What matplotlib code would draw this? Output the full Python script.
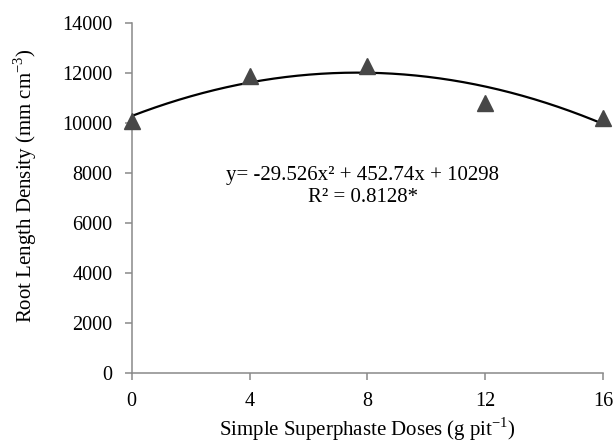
import matplotlib
matplotlib.use("Agg")
import matplotlib.pyplot as plt
import numpy as np

plt.rcParams['font.family'] = ['Liberation Serif', 'DejaVu Serif']
plt.rcParams['mathtext.fontset'] = 'custom'
plt.rcParams['mathtext.rm'] = 'Liberation Serif'

doses = [0, 4, 8, 12, 16]
root_density = [10100, 11900, 12300, 10800, 10200]
coef = [-29.526, 452.74, 10298]
x_ticks = [0, 4, 8, 12, 16]
y_ticks = [0, 2000, 4000, 6000, 8000, 10000, 12000, 14000]

fig = plt.figure(figsize=(6.14, 4.43), dpi=100)
ax = fig.add_axes([0.2145, 0.157, 0.7675, 0.790])

xs = np.linspace(0, 16, 200)
ax.plot(xs, np.polyval(coef, xs), color='black', lw=1.6, zorder=2)
ax.plot(doses, root_density, linestyle='none', marker='^', markersize=11.5,
        color='#474747', zorder=3, clip_on=False)

ax.set_xlim(0, 16)
ax.set_ylim(0, 14000)
ax.set_xticks(x_ticks)
ax.set_yticks(y_ticks)
ax.tick_params(axis='both', labelsize=14.5, color='#898989', length=5, width=1.1)
ax.tick_params(axis='y', pad=9)
ax.tick_params(axis='x', pad=8)
for side in ['top', 'right']:
    ax.spines[side].set_visible(False)
for side in ['left', 'bottom']:
    ax.spines[side].set_color('#898989')
    ax.spines[side].set_linewidth(1.1)

ax.set_xlabel(r'Simple Superphaste Doses (g pit$^{\mathregular{-1}}$)', fontsize=15, va='center')
ax.set_ylabel(r'Root Length Density (mm cm$^{\mathregular{-3}}$)', fontsize=15, va='center')
ax.xaxis.set_label_coords(0.5, -0.158)
ax.yaxis.set_label_coords(-0.225, 0.538)

ax.text(7.84, 7930, 'y= -29.526x² + 452.74x + 10298', fontsize=15, ha='center', va='center')
ax.text(7.84, 7050, 'R² = 0.8128*', fontsize=15, ha='center', va='center')

fig.savefig('out.png', dpi=100)
